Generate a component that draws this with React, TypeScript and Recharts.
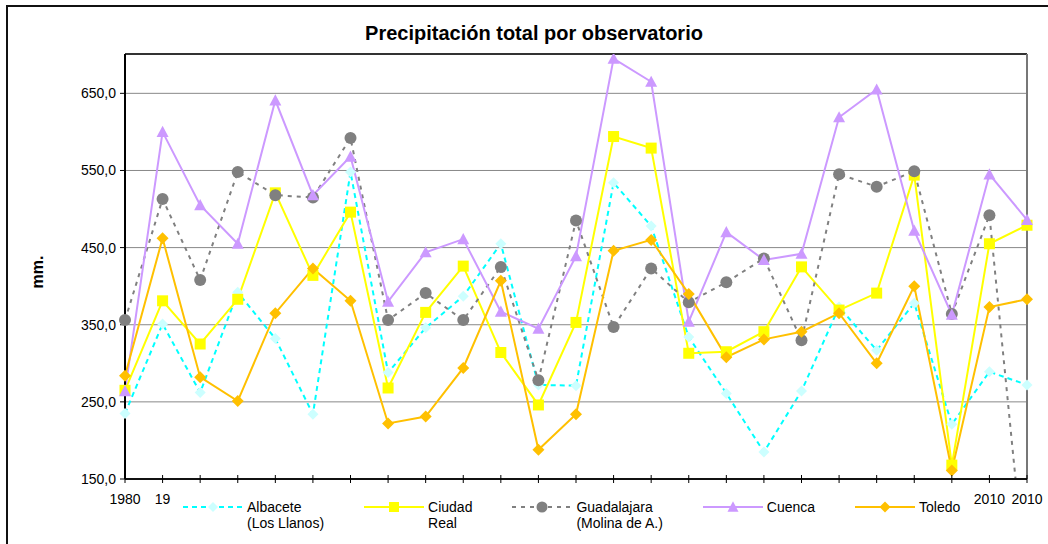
import React from 'react';
import { LineChart, Line, XAxis, YAxis, CartesianGrid, ReferenceLine } from 'recharts';

const title = 'Precipitación total por observatorio';
const yLabel = 'mm.';
const categories = ['1980', '19', '', '', '', '', '', '', '', '', '', '', '', '', '', '', '', '', '', '', '', '', '', '2010', '2010'];
const yTicks = [150, 250, 350, 450, 550, 650];
const yMin = 150;
const yMax = 701;

const albacete = [235, 351, 262, 392, 332, 234, 548, 288, 346, 387, 455, 272, 271, 534, 478, 334, 261, 185, 264, 373, 317, 378, 221, 289, 272];
const ciudadReal = [265, 381, 325, 383, 521, 414, 496, 268, 366, 426, 314, 246, 353, 594, 579, 313, 315, 341, 425, 369, 391, 544, 168, 455, 479];
const guadalajara = [356, 513, 408, 548, 518, 515, 592, 356, 391, 356, 425, 278, 485, 347, 423, 379, 405, 436, 330, 545, 529, 549, 364, 492, 0];
const cuenca = [264, 600, 505, 455, 641, 518, 568, 380, 444, 461, 367, 345, 439, 695, 665, 354, 470, 434, 442, 619, 655, 472, 363, 545, 486];
const toledo = [284, 462, 282, 251, 365, 423, 381, 222, 231, 294, 407, 188, 234, 446, 460, 390, 308, 331, 341, 365, 300, 400, 161, 373, 383];

type Marker = 'diamond' | 'square' | 'circle' | 'triangle';

const seriesDefs: { key: string; name: string[]; values: number[]; stroke: string; fill: string; dash?: string; marker: Marker; size: number }[] = [
  { key: 'albacete', name: ['Albacete', '(Los Llanos)'], values: albacete, stroke: '#00FFFF', fill: '#CCFFFF', dash: '5 4', marker: 'diamond', size: 11 },
  { key: 'ciudadReal', name: ['Ciudad', 'Real'], values: ciudadReal, stroke: '#FFFF00', fill: '#FFFF00', marker: 'square', size: 11 },
  { key: 'guadalajara', name: ['Guadalajara', '(Molina de A.)'], values: guadalajara, stroke: '#808080', fill: '#808080', dash: '4 5', marker: 'circle', size: 12 },
  { key: 'cuenca', name: ['Cuenca'], values: cuenca, stroke: '#CC99FF', fill: '#CC99FF', marker: 'triangle', size: 12 },
  { key: 'toledo', name: ['Toledo'], values: toledo, stroke: '#FFC000', fill: '#FFC000', marker: 'diamond', size: 12 },
];

const data = categories.map((c, i) => {
  const row: Record<string, number | string> = { idx: i, label: c };
  seriesDefs.forEach((s) => {
    row[s.key] = s.values[i];
  });
  return row;
});

function markerShape(marker: Marker, cx: number, cy: number, size: number, fill: string, key?: string) {
  const h = size / 2;
  if (marker === 'diamond') {
    return <path key={key} d={`M${cx},${cy - h}L${cx + h},${cy}L${cx},${cy + h}L${cx - h},${cy}Z`} fill={fill} stroke="none" />;
  }
  if (marker === 'square') {
    return <rect key={key} x={cx - h} y={cy - h} width={size} height={size} fill={fill} stroke="none" />;
  }
  if (marker === 'circle') {
    return <circle key={key} cx={cx} cy={cy} r={h} fill={fill} stroke="none" />;
  }
  const th = size * 0.85;
  return <path key={key} d={`M${cx},${cy - th / 2 - 1}L${cx + h},${cy + th / 2}L${cx - h},${cy + th / 2}Z`} fill={fill} stroke="none" />;
}

const makeDot = (marker: Marker, size: number, fill: string, k: string) => (props: any) => {
  const { cx, cy, index } = props;
  if (cx == null || cy == null || isNaN(cx) || isNaN(cy)) return <g key={`${k}-${index}`} />;
  return markerShape(marker, cx, cy, size, fill, `${k}-${index}`);
};

const renderXTick = (props: any) => {
  const { x, y, payload, index } = props;
  const label = categories[payload.value] ?? '';
  return (
    <g key={`xt-${index}`}>
      <line x1={x} x2={x} y1={y - 4} y2={y + 4} stroke="#000" strokeWidth={1} />
      {label ? (
        <text x={x} y={y + 25} textAnchor="middle" fontSize={14} fill="#000" stroke="none" fontFamily='"Liberation Sans", Arial, sans-serif'>
          {label}
        </text>
      ) : null}
    </g>
  );
};

const fmt = (v: number) => v.toFixed(1).replace('.', ',');

export default function App() {
  const font = '"Liberation Sans", Arial, sans-serif';
  return (
    <div style={{ position: 'absolute', left: 0, top: 0, width: 1048, height: 544, background: '#fff', fontFamily: font, overflow: 'hidden' }}>
      <div style={{ position: 'absolute', left: 6, top: 5, width: 1200, height: 700, borderLeft: '2px solid #111', borderTop: '2px solid #111' }} />
      <div style={{ position: 'absolute', left: 0, width: 1068, top: 21, lineHeight: '24px', textAlign: 'center', fontWeight: 'bold', fontSize: 20, color: '#000' }}>
        {title}
      </div>
      <div style={{ position: 'absolute', left: 38, top: 272, width: 0, height: 0 }}>
        <div style={{ position: 'absolute', transform: 'translate(-50%, -50%) rotate(-90deg)', fontWeight: 'bold', fontSize: 16, whiteSpace: 'nowrap', color: '#000' }}>
          {yLabel}
        </div>
      </div>
      <div style={{ position: 'absolute', left: 0, top: 0 }}>
        <LineChart width={1048} height={544} data={data} margin={{ top: 54, right: 21, bottom: 35, left: 65 }}>
          <CartesianGrid horizontal={true} vertical={false} stroke="#888" strokeWidth={1} />
          <XAxis
            dataKey="idx"
            type="number"
            domain={[0, categories.length - 1]}
            ticks={categories.map((_, i) => i)}
            interval={0}
            height={30}
            tick={renderXTick}
            tickLine={false}
            tickSize={0}
            tickMargin={0}
            axisLine={{ stroke: '#111', strokeWidth: 2 }}
          />
          <YAxis
            type="number"
            domain={[yMin, yMax]}
            ticks={yTicks}
            allowDataOverflow={true}
            width={60}
            tickFormatter={fmt}
            tick={{ fontSize: 14, fill: '#000', fontFamily: font }}
            tickSize={5}
            tickMargin={4}
            tickLine={{ stroke: '#000' }}
            axisLine={{ stroke: '#000', strokeWidth: 2 }}
          />
          <ReferenceLine y={yMax} stroke="#333" strokeWidth={2} />
          <ReferenceLine x={categories.length - 1} stroke="#777" strokeWidth={2} />
          {seriesDefs.map((s) => (
            <Line
              key={s.key}
              dataKey={s.key}
              type="linear"
              stroke={s.stroke}
              strokeWidth={2}
              strokeDasharray={s.dash}
              dot={makeDot(s.marker, s.size, s.fill, s.key)}
              activeDot={false}
              isAnimationActive={false}
            />
          ))}
        </LineChart>
      </div>
      <div style={{ position: 'absolute', left: 183, top: 499, display: 'flex', gap: 40, fontSize: 14, lineHeight: '16px', color: '#000' }}>
        {seriesDefs.map((s) => (
          <div key={s.key} style={{ display: 'flex', alignItems: 'flex-start' }}>
            <svg width={60} height={16} style={{ display: 'block' }}>
              <line x1={0} x2={60} y1={8} y2={8} stroke={s.stroke} strokeWidth={2} strokeDasharray={s.dash} />
              {markerShape(s.marker, 30, 8, s.size - 1, s.fill)}
            </svg>
            <div style={{ marginLeft: 4 }}>
              {s.name.map((n, j) => (
                <div key={j} style={{ whiteSpace: 'nowrap' }}>{n}</div>
              ))}
            </div>
          </div>
        ))}
      </div>
    </div>
  );
}
